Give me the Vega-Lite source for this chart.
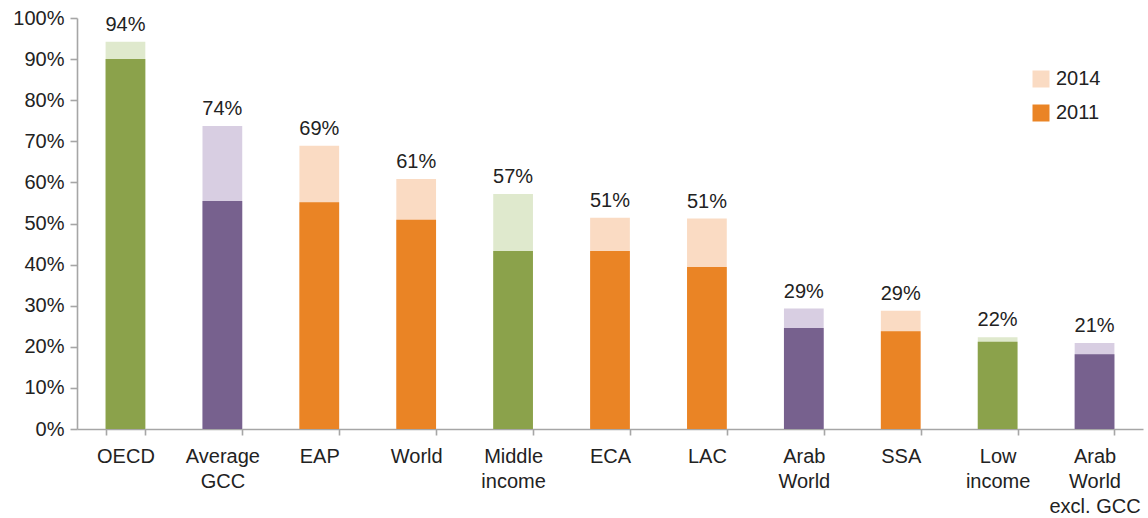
{
  "$schema": "https://vega.github.io/schema/vega-lite/v6.json",
  "width": 1066,
  "height": 411,
  "autosize": {"type": "none"},
  "padding": {"left": 77, "top": 18, "right": 5, "bottom": 89},
  "background": "white",
  "config": {
    "view": {"stroke": null},
    "font": "Liberation Sans",
    "axis": {"labelFont": "Liberation Sans", "labelFontSize": 20, "labelColor": "#222222", "domainColor": "#A6A6A6", "tickColor": "#A6A6A6", "domainWidth": 1.6, "tickWidth": 1.6, "grid": false, "title": null}
  },
  "data": {
    "values": [
      {"region": "OECD", "group": "Income", "year": "2014", "series": "Income 2014", "share": 0.942},
      {"region": "Average GCC", "group": "Arab", "year": "2014", "series": "Arab 2014", "share": 0.737},
      {"region": "EAP", "group": "Region", "year": "2014", "series": "2014", "share": 0.689},
      {"region": "World", "group": "Region", "year": "2014", "series": "2014", "share": 0.608},
      {"region": "Middle income", "group": "Income", "year": "2014", "series": "Income 2014", "share": 0.572},
      {"region": "ECA", "group": "Region", "year": "2014", "series": "2014", "share": 0.514},
      {"region": "LAC", "group": "Region", "year": "2014", "series": "2014", "share": 0.512},
      {"region": "Arab World", "group": "Arab", "year": "2014", "series": "Arab 2014", "share": 0.293},
      {"region": "SSA", "group": "Region", "year": "2014", "series": "2014", "share": 0.288},
      {"region": "Low income", "group": "Income", "year": "2014", "series": "Income 2014", "share": 0.223},
      {"region": "Arab World excl. GCC", "group": "Arab", "year": "2014", "series": "Arab 2014", "share": 0.209},
      {"region": "OECD", "group": "Income", "year": "2011", "series": "Income 2011", "share": 0.900},
      {"region": "Average GCC", "group": "Arab", "year": "2011", "series": "Arab 2011", "share": 0.555},
      {"region": "EAP", "group": "Region", "year": "2011", "series": "2011", "share": 0.552},
      {"region": "World", "group": "Region", "year": "2011", "series": "2011", "share": 0.509},
      {"region": "Middle income", "group": "Income", "year": "2011", "series": "Income 2011", "share": 0.433},
      {"region": "ECA", "group": "Region", "year": "2011", "series": "2011", "share": 0.433},
      {"region": "LAC", "group": "Region", "year": "2011", "series": "2011", "share": 0.394},
      {"region": "Arab World", "group": "Arab", "year": "2011", "series": "Arab 2011", "share": 0.246},
      {"region": "SSA", "group": "Region", "year": "2011", "series": "2011", "share": 0.238},
      {"region": "Low income", "group": "Income", "year": "2011", "series": "Income 2011", "share": 0.212},
      {"region": "Arab World excl. GCC", "group": "Arab", "year": "2011", "series": "Arab 2011", "share": 0.182}
    ]
  },
  "encoding": {
    "x": {
      "field": "region",
      "type": "nominal",
      "sort": null,
      "scale": {"paddingInner": 0.59, "paddingOuter": 0.295},
      "axis": {
        "labelAngle": 0,
        "tickBand": "extent",
        "tickSize": 6,
        "labelPadding": 11,
        "labelBaseline": "top",
        "labelLineHeight": 25,
        "labelExpr": "!isString(datum.value) ? '' : datum.value == 'Arab World excl. GCC' ? ['Arab', 'World', 'excl. GCC'] : split(datum.value, ' ')"
      }
    }
  },
  "layer": [
    {
      "transform": [{"filter": "datum.year == '2014'"}],
      "mark": {"type": "bar"},
      "encoding": {
        "y": {
          "field": "share",
          "type": "quantitative",
          "stack": null,
          "scale": {"domain": [0, 1], "nice": false},
          "axis": {"values": [0, 0.1, 0.2, 0.3, 0.4, 0.5, 0.6, 0.7, 0.8, 0.9, 1], "format": ".0%", "tickSize": 7, "labelPadding": 6}
        },
        "color": {
          "field": "series",
          "type": "nominal",
          "scale": {
            "domain": ["2014", "2011", "Income 2014", "Income 2011", "Arab 2014", "Arab 2011"],
            "range": ["#FADBC3", "#EA8425", "#DFE9CD", "#8BA24B", "#D8CEE2", "#77618E"]
          },
          "legend": {
            "values": ["2014", "2011"],
            "title": null,
            "orient": "none",
            "legendX": 954,
            "legendY": 51,
            "symbolType": "square",
            "symbolSize": 289,
            "symbolStrokeWidth": 0,
            "symbolOpacity": 1,
            "labelFont": "Liberation Sans",
            "labelFontSize": 20,
            "labelColor": "#222222",
            "labelOffset": 5,
            "rowPadding": 14
          }
        }
      }
    },
    {
      "transform": [{"filter": "datum.year == '2011'"}],
      "mark": {"type": "bar"},
      "encoding": {
        "y": {"field": "share", "type": "quantitative", "stack": null},
        "color": {"field": "series", "type": "nominal"}
      }
    },
    {
      "transform": [{"filter": "datum.year == '2014'"}],
      "mark": {"type": "text", "baseline": "bottom", "dy": -7, "fontSize": 20, "font": "Liberation Sans", "color": "#222222"},
      "encoding": {
        "y": {"field": "share", "type": "quantitative", "stack": null},
        "text": {"field": "share", "type": "quantitative", "format": ".0%"}
      }
    }
  ]
}
